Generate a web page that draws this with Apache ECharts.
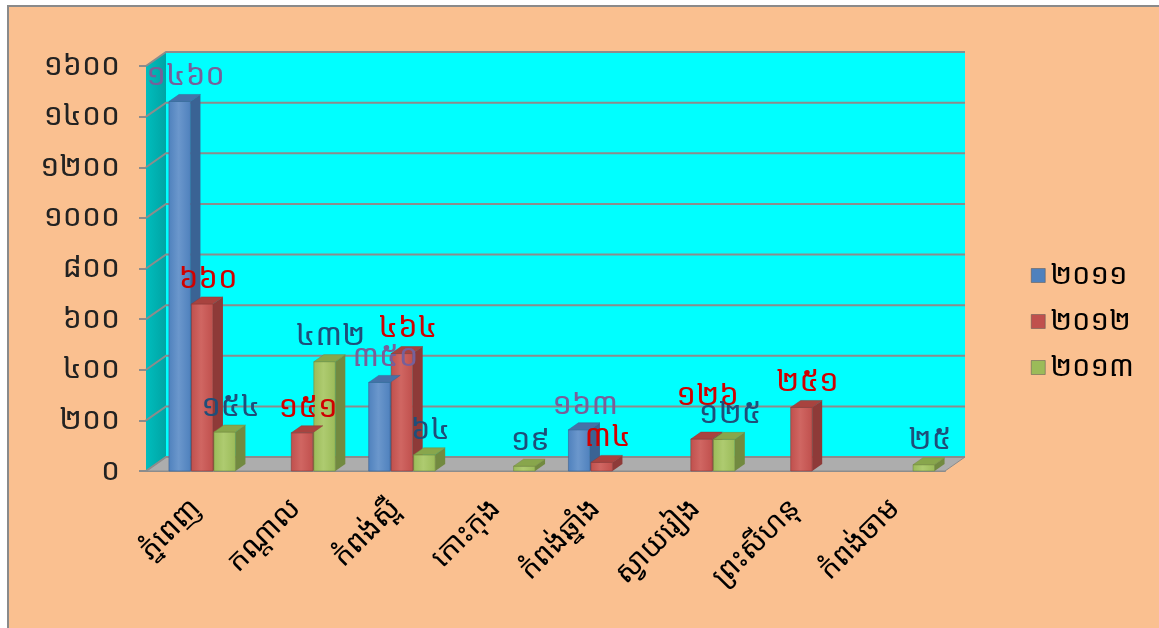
<!DOCTYPE html>
<html>
<head>
<meta charset="utf-8">
<script src="https://cdn.jsdelivr.net/npm/echarts@6/dist/echarts.min.js"></script>
<style>
  html, body { margin: 0; padding: 0; background: #fff; }
  #main { width: 1159px; height: 628px; }
</style>
</head>
<body>
<div id="main"></div>
<script>
  // data
  const categories = ['ភ្នំពេញ', 'កណ្ដាល', 'កំពង់ស្ពឺ', 'កោះកុង', 'កំពង់ឆ្នាំង', 'ស្វាយរៀង', 'ព្រះសីហនុ', 'កំពង់ចាម'];
  const years = ['២០១១', '២០១២', '២០១៣'];
  const v2011 = [1460, null, 350, null, 163, null, null, null];
  const v2012 = [660, 151, 464, null, 34, 126, 251, null];
  const v2013 = [154, 432, 64, 19, null, 125, null, 25];
  const yTicks = [0, 200, 400, 600, 800, 1000, 1200, 1400, 1600];

  const KH = ['០', '១', '២', '៣', '៤', '៥', '៦', '៧', '៨', '៩'];
  function toKhmer(n) {
    return String(n).replace(/[0-9]/g, d => KH[+d]);
  }

  const FONT = "'Khmer OS', 'Khmer OS System', 'Noto Sans Khmer', 'Noto Serif Khmer', 'Hanuman', 'Battambang', sans-serif";
  // depth of the 3d box
  const DX = 20, DY = -14;
  const BDX = 10, BDY = -7;

  const palette = [
    { front: '#4F81BD', light: '#6B97CC', side: '#3A6394', top: '#4572A8', label: '#76609A' },
    { front: '#C0504D', light: '#D06662', side: '#8E3A38', top: '#A8433F', label: '#D00000' },
    { front: '#9BBB59', light: '#AECB70', side: '#728A40', top: '#88A64C', label: '#1F4E79' }
  ];
  const sets = [v2011, v2012, v2013];

  function barRender(si) {
    return function (params, api) {
      const cat = api.value(0), val = api.value(1);
      const base = api.coord([cat, 0]);
      const top = api.coord([cat, val]);
      const w = 21.5;
      const x0 = base[0] - 27 + si * 22.5;
      const yB = base[1], yT = top[1];
      const c = palette[si];
      // lift the label if the next bar in the group has about the same height
      let ly = yT - 25;
      const nxt = si < 2 ? sets[si + 1][cat] : null;
      if (nxt !== null && Math.abs(api.coord([cat, nxt])[1] - yT) < 15) ly -= 18;
      return {
        type: 'group',
        children: [
          {
            type: 'polygon', z2: 1,
            shape: { points: [[x0 + w, yT], [x0 + w + BDX, yT + BDY], [x0 + w + BDX, yB + BDY], [x0 + w, yB]] },
            style: { fill: c.side }
          },
          {
            type: 'rect', z2: 2,
            shape: { x: x0, y: yT, width: w, height: yB - yT },
            style: {
              fill: new echarts.graphic.LinearGradient(0, 0, 1, 0, [
                { offset: 0, color: c.front }, { offset: 0.45, color: c.light }, { offset: 1, color: c.front }
              ]),
              stroke: c.side, lineWidth: 0.6
            }
          },
          {
            type: 'polygon', z2: 3,
            shape: { points: [[x0, yT], [x0 + BDX, yT + BDY], [x0 + w + BDX, yT + BDY], [x0 + w, yT]] },
            style: { fill: c.top, stroke: c.side, lineWidth: 0.5 }
          },
          {
            type: 'text', z2: 100,
            style: {
              x: x0 + w / 2 + 6, y: ly,
              text: toKhmer(val),
              align: 'center', verticalAlign: 'middle',
              fill: c.label, font: '31px ' + FONT
            }
          }
        ]
      };
    };
  }

  function wallRender(params, api) {
    const cs = params.coordSys;
    const p = api.coord([0, api.value(1)]);
    const y = p[1];
    const children = [];
    if (params.dataIndex === 0) {
      const yb = cs.y + cs.height;
      children.push({
        type: 'rect', z2: 0,
        shape: { x: cs.x + DX, y: cs.y + DY, width: cs.width, height: cs.height },
        style: { fill: '#00FFFF' }
      });
      children.push({
        type: 'polygon', z2: 1,
        shape: { points: [[cs.x, cs.y], [cs.x + DX, cs.y + DY], [cs.x + DX, yb + DY], [cs.x, yb]] },
        style: { fill: new echarts.graphic.LinearGradient(0, 0, 1, 0, [
          { offset: 0, color: '#00BDBD' }, { offset: 1, color: '#00A4A4' }
        ]) }
      });
      children.push({
        type: 'polygon', z2: 2,
        shape: { points: [[cs.x, yb], [cs.x + DX, yb + DY], [cs.x + cs.width + DX, yb + DY], [cs.x + cs.width, yb]] },
        style: { fill: '#ADADAD', stroke: '#8C8C8C', lineWidth: 1 }
      });
    }
    children.push({
      type: 'polyline', z2: 5,
      shape: { points: [[cs.x, y], [cs.x + DX, y + DY], [cs.x + cs.width + DX, y + DY]] },
      style: { stroke: '#8C8C8C', lineWidth: 2, fill: null }
    });
    return { type: 'group', children: children };
  }

  const chart = echarts.init(document.getElementById('main'));

  chart.setOption({
    backgroundColor: '#fff',
    animation: false,
    graphic: [{
      type: 'rect', z: -10, silent: true,
      shape: { x: 8, y: 6, width: 1200, height: 700 },
      style: { fill: '#FAC090', stroke: '#8A8A8A', lineWidth: 2 }
    }],
    legend: {
      orient: 'vertical',
      left: 1026, top: 256,
      itemWidth: 14, itemHeight: 14, itemGap: 17,
      icon: 'rect',
      itemStyle: { borderColor: '#555', borderWidth: 0.5 },
      textStyle: { fontFamily: FONT, fontSize: 29, color: '#000' },
      data: years
    },
    grid: { left: 146, right: 214, top: 66, bottom: 157 },
    xAxis: {
      type: 'category',
      data: categories,
      axisLine: { lineStyle: { color: '#8C8C8C', width: 2 } },
      axisTick: { length: 6, lineStyle: { color: '#8C8C8C', width: 2 } },
      axisLabel: { rotate: 45, margin: 33, fontFamily: FONT, fontSize: 29, color: '#000' }
    },
    yAxis: {
      type: 'value',
      min: 0, max: 1600, interval: 200,
      axisLine: { show: false },
      axisTick: { show: true, length: 7, lineStyle: { color: '#8C8C8C', width: 2 } },
      splitLine: { show: false },
      axisLabel: {
        margin: 26, fontFamily: FONT, fontSize: 30, color: '#222',
        formatter: v => toKhmer(v)
      }
    },
    series: [{
      type: 'custom', name: 'walls', z: 1, silent: true,
      renderItem: wallRender,
      data: yTicks.map(v => [0, v])
    }].concat(sets.map((arr, si) => ({
      type: 'custom',
      name: years[si],
      z: 3,
      itemStyle: { color: palette[si].front },
      renderItem: barRender(si),
      data: arr.map((v, i) => [i, v]).filter(d => d[1] !== null)
    })))
  });
</script>
</body>
</html>
